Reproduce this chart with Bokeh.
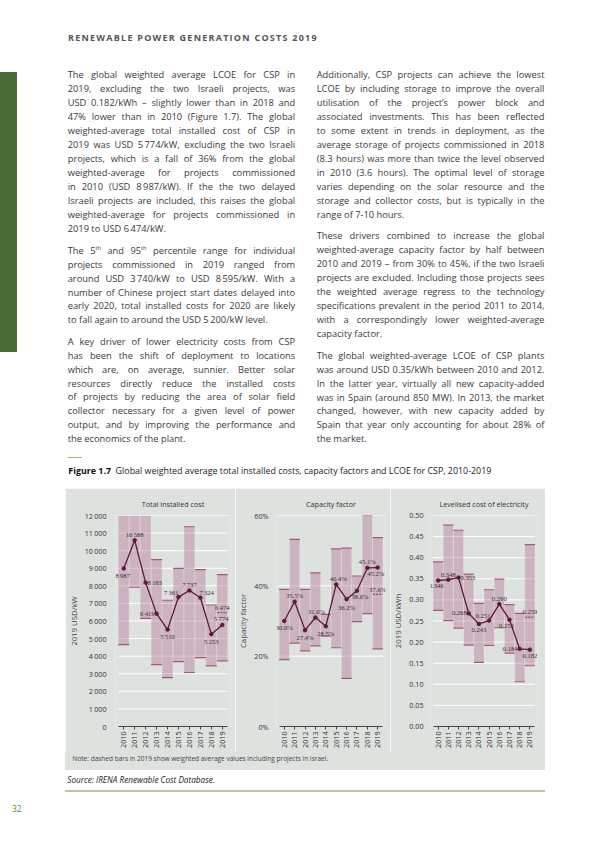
import math
from bokeh.plotting import figure
from bokeh.models import (Div, Spacer, FixedTicker, ColumnDataSource, Range1d, NumeralTickFormatter,
                          CustomJSTickFormatter, LabelSet)
from bokeh.layouts import column, row
from bokeh.embed import file_html
from bokeh.resources import INLINE

# ---------------- data ----------------
years = [2010, 2011, 2012, 2013, 2014, 2015, 2016, 2017, 2018, 2019]

cost_avg = [8987, 10588, 8183, 6419, 5510, 7361, 7737, 7324, 5253, 5774]
cost_p95 = [12600, 12800, 12300, 9490, 7180, 8990, 11360, 8920, 6910, 8640]
cost_p5 = [4660, 7920, 6150, 3520, 2780, 3690, 3070, 3920, 3450, 3730]
cost_2019_incl_israel = 6474
cost_ticks = [0, 1000, 2000, 3000, 4000, 5000, 6000, 7000, 8000, 9000, 10000, 11000, 12000]

cf_avg = [30.0, 35.5, 27.4, 31.0, 28.5, 40.4, 36.2, 38.6, 45.1, 45.2]
cf_p95 = [39.0, 53.2, 39.0, 43.7, 31.9, 50.5, 50.7, 42.8, 60.0, 53.7]
cf_p5 = [19.0, 23.7, 21.5, 22.9, 25.7, 22.4, 13.7, 29.8, 32.1, 22.1]
cf_2019_incl_israel = 37.6
cf_ticks = [0, 20, 40, 60]

lcoe_avg = [0.346, 0.348, 0.353, 0.268, 0.243, 0.251, 0.290, 0.253, 0.184, 0.182]
lcoe_p95 = [0.390, 0.477, 0.465, 0.361, 0.292, 0.324, 0.349, 0.289, 0.268, 0.431]
lcoe_p5 = [0.275, 0.251, 0.233, 0.193, 0.152, 0.192, 0.234, 0.174, 0.106, 0.144]
lcoe_2019_incl_israel = 0.259
lcoe_ticks = [0.0, 0.05, 0.10, 0.15, 0.20, 0.25, 0.30, 0.35, 0.40, 0.45, 0.50]

# ---------------- styles ----------------
GRAY = "#dde2df"
BAR = "#b0608a"
EDGE = "#a2587a"
LINE = "#5a1a38"
TXT = "#3a3a3a"
FONT = "Open Sans"


def fmt_cost(v):
    return f"{v:,}".replace(",", "\u2009")


def fmt_cf(v):
    return f"{v:.1f}%"


def fmt_lcoe(v):
    return f"{v:.3f}"


# label placement (dx, dy in px [down positive], align)
cost_lab = [(-1, 7, "center"), (0, -6, "center"), (2, 0, "left"), (-2, 0, "right"), (0, 7, "center"),
            (0, -5, "right"), (0, -6, "center"), (-1, -5, "left"), (0, 7, "center"), (-1, -6, "center")]
cf_lab = [(0, 6, "center"), (0, -6, "center"), (0, 7, "center"), (1, -6, "center"), (0, 7, "center"),
          (2, -6, "center"), (0, 8, "center"), (3, 6, "center"), (0, -6, "center"), (-2, 6, "center")]
lcoe_lab = [(-2, 6, "center"), (0, -5, "center"), (2, 0, "left"), (-2, 0, "right"), (0, 6, "center"),
            (-6, -5, "center"), (0, -5, "center"), (-3, 6, "center"), (-2, 0, "right"), (0, 6, "center")]

PAD = 0.25


def panel(title, avg, hi, lo, incl, ymax, ticks, ylabel, fmt, labpos, width, bl, br, tick_fmt, lstand):
    x_lo, x_hi = years[0] - 0.5, years[-1] + 0.5
    p = figure(width=width, height=264, x_range=Range1d(x_lo - PAD, x_hi + PAD), y_range=Range1d(0, ymax),
               output_backend="svg", toolbar_location=None, margin=0,
               min_border_left=bl, min_border_right=br, min_border_top=27, min_border_bottom=26)
    p.background_fill_color = GRAY
    p.border_fill_color = GRAY
    p.outline_line_color = None
    p.title.text = title
    p.title.align = "center"
    p.title.text_font = FONT
    p.title.text_font_size = "7.2px"
    p.title.text_font_style = "normal"
    p.title.text_color = "#333333"
    p.title.standoff = 14

    p.xgrid.visible = False
    p.ygrid.visible = False

    xa = p.xaxis[0]
    xa.ticker = FixedTicker(ticks=years)
    xa.bounds = (x_lo, x_hi)
    xa.major_label_orientation = math.pi / 2
    xa.major_label_text_font = FONT
    xa.major_label_text_font_size = "7.2px"
    xa.major_label_text_color = "#333333"
    xa.axis_line_color = "#444444"
    xa.major_tick_line_color = "#444444"
    xa.major_tick_in = 0
    xa.major_tick_out = 3
    xa.minor_tick_line_color = None
    xa.major_label_standoff = 2

    ya = p.yaxis[0]
    ya.ticker = FixedTicker(ticks=ticks)
    ya.axis_line_color = None
    ya.major_tick_line_color = None
    ya.minor_tick_line_color = None
    ya.major_label_text_font = FONT
    ya.major_label_text_font_size = "7.2px"
    ya.major_label_text_color = "#333333"
    ya.major_label_standoff = lstand
    ya.axis_label = ylabel
    ya.axis_label_text_font = FONT
    ya.axis_label_text_font_size = "7.8px"
    ya.axis_label_text_font_style = "normal"
    ya.axis_label_text_color = "#444444"
    ya.axis_label_standoff = 3
    ya.formatter = tick_fmt

    # white gridlines spanning the bars only
    gt = [t for t in ticks if t > 0]
    p.segment(x0=[x_lo] * len(gt), x1=[x_hi] * len(gt), y0=gt, y1=gt, line_color="white", line_width=1)

    src = ColumnDataSource(dict(
        year=years, hi=hi, lo=lo, avg=avg,
        x0=[y - 0.5 for y in years], x1=[y + 0.5 for y in years],
    ))
    p.vbar(x="year", width=1, bottom="lo", top="hi", source=src, fill_color=BAR, fill_alpha=0.36,
           line_color="white", line_alpha=0.35, line_width=0.7)
    p.segment(x0="x0", x1="x1", y0="hi", y1="hi", source=src, line_color=EDGE, line_width=1.2)
    p.segment(x0="x0", x1="x1", y0="lo", y1="lo", source=src, line_color=EDGE, line_width=1.2)

    last = years[-1]
    isrc = ColumnDataSource(dict(x=[last], y=[incl], x0=[last - 0.45], x1=[last + 0.45], lab=[fmt(incl)]))
    p.segment(x0="x0", x1="x1", y0="y", y1="y", source=isrc, line_color=LINE,
              line_width=0.8, line_dash="2 1")
    p.add_layout(LabelSet(x="x", y="y", text="lab", source=isrc, y_offset=5, text_align="center",
                          text_baseline="middle", text_font=FONT, text_font_size="6.6px",
                          text_color="#333333"))

    p.line(x="year", y="avg", source=src, line_color=LINE, line_width=1.3)
    p.scatter(x="year", y="avg", source=src, size=3.5, fill_color=LINE, line_color=LINE)
    src2 = ColumnDataSource(dict(year=years, avg=avg, lab=[fmt(v) for v in avg],
                                 dx=[l[0] for l in labpos], dy=[-l[1] for l in labpos],
                                 al=[l[2] for l in labpos]))
    p.add_layout(LabelSet(x="year", y="avg", text="lab", x_offset="dx", y_offset="dy", text_align="al",
                          source=src2, text_baseline="middle", text_font=FONT, text_font_size="6.6px",
                          text_color="#333333"))
    return p


cost_fmt = CustomJSTickFormatter(code="return tick.toString().replace(/\\B(?=(\\d{3})+(?!\\d))/g, '\\u2009');")
cf_fmt = CustomJSTickFormatter(code="return tick + '%';")
lcoe_fmt = NumeralTickFormatter(format="0.00")

# figure spans (page x): p1 65-235, p2 235-390, p3 390-545
p1 = panel("Total installed cost", cost_avg, cost_p95, cost_p5, cost_2019_incl_israel, 12000, cost_ticks,
           "2019 USD/kW", fmt_cost, cost_lab, 170, 48, 5, cost_fmt, 3)
p2 = panel("Capacity factor", cf_avg, cf_p95, cf_p5, cf_2019_incl_israel, 60, cf_ticks,
           "Capacity factor", fmt_cf, cf_lab, 155, 29, 5, cf_fmt, 2)
p3 = panel("Levelised cost of electricity", lcoe_avg, lcoe_p95, lcoe_p5, lcoe_2019_incl_israel, 0.5, lcoe_ticks,
           "2019 USD/kWh", fmt_lcoe, lcoe_lab, 155, 30, 8, lcoe_fmt, 1)

# ---------------- page text ----------------
left_p1 = [
    "The global weighted average LCOE for CSP in",
    "2019, excluding the two Israeli projects, was",
    "USD 0.182/kWh – slightly lower than in 2018 and",
    "47% lower than in 2010 (Figure 1.7). The global",
    "weighted-average total installed cost of CSP in",
    "2019 was USD 5\u2009774/kW, excluding the two Israeli",
    "projects, which is a fall of 36% from the global",
    "weighted-average for projects commissioned",
    "in 2010 (USD 8\u2009987/kW). If the the two delayed",
    "Israeli projects are included, this raises the global",
    "weighted-average for projects commissioned in",
    "2019 to USD 6\u2009474/kW.",
]
left_p2 = [
    "The 5<sup>th</sup> and 95<sup>th</sup> percentile range for individual",
    "projects commissioned in 2019 ranged from",
    "around USD 3\u2009740/kW to USD 8\u2009595/kW. With a",
    "number of Chinese project start dates delayed into",
    "early 2020, total installed costs for 2020 are likely",
    "to fall again to around the USD 5\u2009200/kW level.",
]
left_p3 = [
    "A key driver of lower electricity costs from CSP",
    "has been the shift of deployment to locations",
    "which are, on average, sunnier. Better solar",
    "resources directly reduce the installed costs",
    "of projects by reducing the area of solar field",
    "collector necessary for a given level of power",
    "output, and by improving the performance and",
    "the economics of the plant.",
]
right_p1 = [
    "Additionally, CSP projects can achieve the lowest",
    "LCOE by including storage to improve the overall",
    "utilisation of the project’s power block and",
    "associated investments. This has been reflected",
    "to some extent in trends in deployment, as the",
    "average storage of projects commissioned in 2018",
    "(8.3 hours) was more than twice the level observed",
    "in 2010 (3.6 hours). The optimal level of storage",
    "varies depending on the solar resource and the",
    "storage and collector costs, but is typically in the",
    "range of 7-10 hours.",
]
right_p2 = [
    "These drivers combined to increase the global",
    "weighted-average capacity factor by half between",
    "2010 and 2019 – from 30% to 45%, if the two Israeli",
    "projects are excluded. Including those projects sees",
    "the weighted average regress to the technology",
    "specifications prevalent in the period 2011 to 2014,",
    "with a correspondingly lower weighted-average",
    "capacity factor.",
]
right_p3 = [
    "The global weighted-average LCOE of CSP plants",
    "was around USD 0.35/kWh between 2010 and 2012.",
    "In the latter year, virtually all new capacity-added",
    "was in Spain (around 850 MW). In 2013, the market",
    "changed, however, with new capacity added by",
    "Spain that year only accounting for about 28% of",
    "the market.",
]

FS = 9.3
LH = 13.95
BASE = f"font-family:'{FONT}',sans-serif;color:{TXT};margin:0;padding:0;"


def para(lines, x, yc0, width, oy=0):
    out = []
    for i, ln in enumerate(lines):
        top = yc0 + i * LH - 0.87 * FS - oy
        common = (f"position:absolute;left:{x:.1f}px;top:{top:.1f}px;font-size:{FS}px;"
                  f"line-height:{1.5 * FS:.2f}px;white-space:nowrap;{BASE}")
        if i == len(lines) - 1:
            out.append(f'<div style="{common}">{ln}</div>')
        else:
            spans = "".join(f"<span>{w}</span>" for w in ln.split(" "))
            out.append(f'<div style="{common}width:{width}px;display:flex;justify-content:space-between;">{spans}</div>')
    return "".join(out)


def label(x, yc, s, fs, extra="", oy=0, cap=False):
    k = 0.78 if cap else 0.87
    top = yc - k * fs - oy
    return (f'<div style="position:absolute;left:{x:.1f}px;top:{top:.1f}px;font-size:{fs}px;'
            f'line-height:{1.5 * fs:.2f}px;white-space:nowrap;{BASE}{extra}">{s}</div>')


def box(x, y, w, h, color, oy=0):
    return f'<div style="position:absolute;left:{x}px;top:{y - oy:.2f}px;width:{w}px;height:{h}px;background:{color};"></div>'


sup_css = "<style>sup{font-size:0.6em;vertical-align:super;line-height:0;}</style>"

TOP_H = 488
top_html = (
    sup_css
    + f'<div style="position:absolute;left:0;top:0;width:595px;height:{TOP_H}px;overflow:visible;margin:0;padding:0;">'
    + label(68, 38, "RENEWABLE POWER GENERATION COSTS 2019", 9, "font-weight:bold;letter-spacing:1.25px;color:#555555;", cap=True)
    + box(0, 71.7, 16.7, 280, "#4b6a35")
    + para(left_p1, 67.7, 76.5, 227.5)
    + para(left_p2, 67.7, 251.7, 227.5)
    + para(left_p3, 67.7, 342.7, 227.5)
    + para(right_p1, 316.7, 76.5, 227.8)
    + para(right_p2, 316.7, 237.3, 227.8)
    + para(right_p3, 316.7, 356.7, 227.8)
    + box(68, 456.6, 14, 1.5, "#8dc26f")
    + label(68.3, 471.7, "<b style='color:#111'>Figure 1.7</b>&nbsp;&nbsp;Global weighted average total installed costs, capacity factors and LCOE for CSP, 2010-2019", 8.9, "color:#222222;")
    + "</div>"
)
top_div = Div(text=top_html, width=595, height=TOP_H, margin=0, styles={"overflow": "visible"})

B0 = 752
BOT_H = 88
bottom_html = (
    f'<div style="position:absolute;left:0;top:0;width:595px;height:{BOT_H}px;overflow:visible;margin:0;padding:0;">'
    + box(65, B0, 480, 18, GRAY, oy=B0)
    + label(72.5, 760, "Note: dashed bars in 2019 show weighted average values including projects in Israel.", 6.5, "color:#444444;", oy=B0)
    + label(67.3, 781, "Source: IRENA Renewable Cost Database.", 8.2, "font-style:italic;color:#222222;", oy=B0)
    + box(65, 790.3, 480, 1.5, "#bcc5ad", oy=B0)
    + label(12, 810, "32", 8.5, "color:#5d8a3c;", oy=B0)
    + "</div>"
)
bottom_div = Div(text=bottom_html, width=595, height=BOT_H, margin=0, styles={"overflow": "visible"})

charts = row(Spacer(width=65, height=264, margin=0), p1, p2, p3, Spacer(width=50, height=264, margin=0),
             margin=0, spacing=0)
page = column(top_div, charts, bottom_div, margin=0, spacing=0)

open("out.html", "w").write(file_html(page, INLINE))
